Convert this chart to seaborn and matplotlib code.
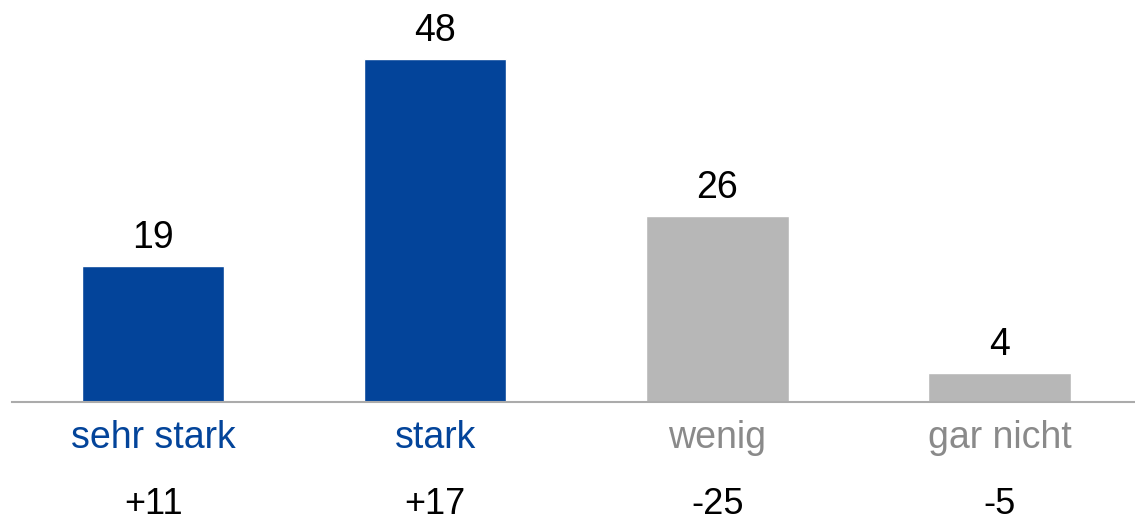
import pandas as pd
import matplotlib
matplotlib.use('Agg')
import matplotlib.pyplot as plt
import seaborn as sns

categories = ['sehr stark', 'stark', 'wenig', 'gar nicht']
values = [19, 48, 26, 4]
changes = ['+11', '+17', '-25', '-5']

blue = '#03449A'
gray_bar = '#B7B7B7'
gray_text = '#8A8A8A'
bar_colors = [blue, blue, gray_bar, gray_bar]
label_colors = [blue, blue, gray_text, gray_text]

df = pd.DataFrame({'category': categories, 'value': values})

sns.set_style('white')
plt.rcParams['font.family'] = ['Liberation Sans', 'DejaVu Sans']

fig = plt.figure(figsize=(11.35, 5.25), dpi=100)
ax = fig.add_axes([12 / 1135, 123 / 525, 1123 / 1135, 402 / 525])

sns.barplot(data=df, x='category', y='value', hue='category',
            palette=bar_colors, order=categories, width=0.505,
            legend=False, saturation=1, ax=ax)

ax.set_xlim(-0.5, 3.48)
ax.set_ylim(0, 56.2)

# value labels above bars
for i, v in enumerate(values):
    ax.annotate(str(v), (i, v), xytext=(0, 13), textcoords='offset points',
                ha='center', va='baseline', fontsize=27, color='black')

# category labels as tick labels
ax.set_xticks(range(len(categories)))
ax.set_xticklabels(categories, fontsize=27)
ax.tick_params(axis='x', length=0, pad=33)
for lbl, c in zip(ax.get_xticklabels(), label_colors):
    lbl.set_color(c)
    lbl.set_va('baseline')

# change row at the bottom
for i, ch in enumerate(changes):
    ax.text(i, -15.7, ch, ha='center', va='baseline', fontsize=26,
            color='black', clip_on=False)

ax.set_yticks([])
ax.set_xlabel('')
ax.set_ylabel('')
for s in ['top', 'right', 'left']:
    ax.spines[s].set_visible(False)
ax.spines['bottom'].set_color('#ABABAB')
ax.spines['bottom'].set_linewidth(1.5)

fig.savefig('out.png', dpi=100)
